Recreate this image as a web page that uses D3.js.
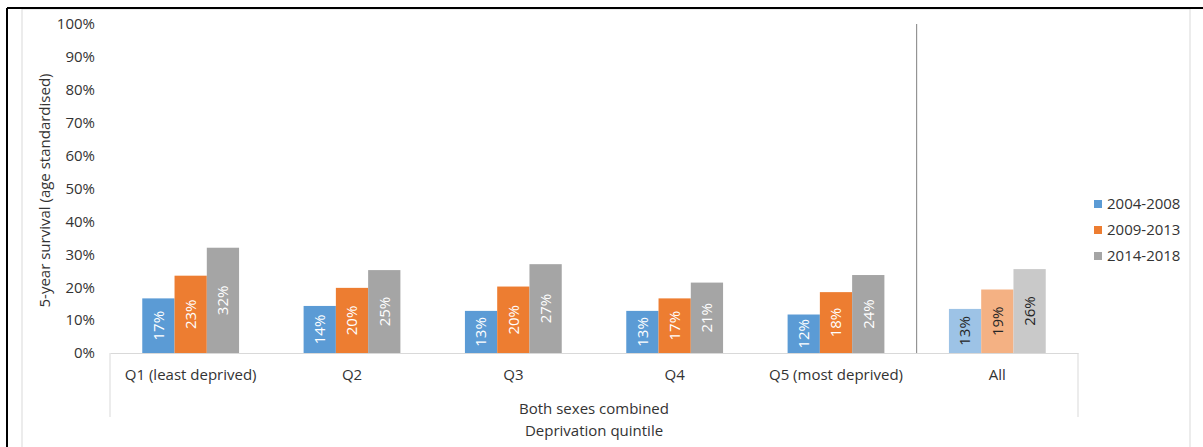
<!DOCTYPE html>
<html lang="en">
<head>
  <meta charset="UTF-8">
  <title>5-year survival by deprivation quintile</title>
  <script src="https://cdn.jsdelivr.net/npm/d3@7"></script>
  <style>
    body { margin: 0; background: #fff; }
    text { font-family: "Open Sans", sans-serif; fill: #333; }
  </style>
</head>
<body>
<div id="chart"></div>
<script>
// data
const categories = ["Q1 (least deprived)", "Q2", "Q3", "Q4", "Q5 (most deprived)", "All"];
const series = ["2004-2008", "2009-2013", "2014-2018"];
const v2004 = [16.6, 14.3, 12.8, 12.8, 11.7, 13.4];
const v2009 = [23.5, 19.8, 20.2, 16.6, 18.5, 19.3];
const v2014 = [32.0, 25.2, 27.0, 21.4, 23.7, 25.5];
const labels2004 = ["17%", "14%", "13%", "13%", "12%", "13%"];
const labels2009 = ["23%", "20%", "20%", "17%", "18%", "19%"];
const labels2014 = ["32%", "25%", "27%", "21%", "24%", "26%"];
const yTicks = [0, 10, 20, 30, 40, 50, 60, 70, 80, 90, 100];

const colors = ["#5B9BD5", "#ED7D31", "#A5A5A5"];
const lightColors = ["#9DC3E6", "#F4B183", "#C9C9C9"];

const width = 1203, height = 447;
const margin = { top: 24, right: 125, bottom: 94, left: 110 };
const innerW = 1078 - margin.left;
const innerH = 353 - margin.top;
const fs = "15px";

const svg = d3.select("#chart").append("svg")
  .attr("width", width)
  .attr("height", height);

// frame
svg.append("rect").attr("x", 22).attr("y", 9).attr("width", 1168).attr("height", 450)
  .attr("fill", "none").attr("stroke", "#D9D9D9");
svg.append("line").attr("x1", 7).attr("x2", 1203).attr("y1", 8).attr("y2", 8)
  .attr("stroke", "#000").attr("stroke-width", 2);
svg.append("line").attr("x1", 7).attr("x2", 7).attr("y1", 8).attr("y2", 447)
  .attr("stroke", "#000").attr("stroke-width", 2);

const g = svg.append("g").attr("transform", `translate(${margin.left},${margin.top})`);

const x0 = d3.scaleBand().domain(categories).range([0, innerW]).paddingInner(0).paddingOuter(0);
const x1 = d3.scaleBand().domain(series).range([0, x0.bandwidth() * 0.6]);
const y = d3.scaleLinear().domain([0, 100]).range([innerH, 0]);

// y axis (labels only)
const yAxis = d3.axisLeft(y).tickValues(yTicks).tickFormat(d => d + "%").tickSize(0).tickPadding(15);
const yAxisG = g.append("g").call(yAxis);
yAxisG.select(".domain").remove();
yAxisG.selectAll("text").style("font-size", fs).attr("fill", "#333")
  .style("font-family", "'Open Sans', sans-serif");

g.append("text")
  .attr("transform", `translate(${-65},${innerH / 2 + 2}) rotate(-90)`)
  .attr("text-anchor", "middle")
  .attr("dy", "0.35em")
  .style("font-size", fs)
  .text("5-year survival (age standardised)");

// category axis
const xAxis = d3.axisBottom(x0).tickSize(0).tickPadding(16);
const xAxisG = g.append("g").attr("transform", `translate(0,${innerH})`).call(xAxis);
xAxisG.select(".domain").attr("stroke", "#D9D9D9");
xAxisG.selectAll("text").style("font-size", fs).attr("fill", "#333")
  .style("font-family", "'Open Sans', sans-serif");

g.selectAll("line.edge").data([0, innerW]).enter().append("line")
  .attr("class", "edge")
  .attr("x1", d => d).attr("x2", d => d)
  .attr("y1", innerH).attr("y2", innerH + 64)
  .attr("stroke", "#D9D9D9");

g.append("text")
  .attr("x", innerW / 2).attr("y", innerH + 56)
  .attr("dy", "0.35em")
  .attr("text-anchor", "middle")
  .style("font-size", fs)
  .text("Both sexes combined");

g.append("text")
  .attr("x", innerW / 2).attr("y", innerH + 78)
  .attr("dy", "0.35em")
  .attr("text-anchor", "middle")
  .style("font-size", fs)
  .text("Deprivation quintile");

// separator before "All"
g.append("line")
  .attr("x1", x0("All")).attr("x2", x0("All"))
  .attr("y1", 0).attr("y2", innerH)
  .attr("stroke", "#808080");

// bars
const rows = categories.map((c, i) => ({
  cat: c,
  vals: [
    { s: series[0], v: v2004[i], l: labels2004[i] },
    { s: series[1], v: v2009[i], l: labels2009[i] },
    { s: series[2], v: v2014[i], l: labels2014[i] }
  ]
}));

const groups = g.selectAll("g.grp").data(rows).enter().append("g")
  .attr("class", "grp")
  .attr("transform", d => `translate(${x0(d.cat) + x0.bandwidth() * 0.2},0)`);

groups.selectAll("rect").data(d => d.vals.map(v => ({ ...v, all: d.cat === "All" }))).enter().append("rect")
  .attr("x", d => x1(d.s))
  .attr("y", d => y(d.v))
  .attr("width", x1.bandwidth())
  .attr("height", d => innerH - y(d.v))
  .attr("fill", (d, i) => d.all ? lightColors[i] : colors[i]);

groups.selectAll("text.lbl").data(d => d.vals.map(v => ({ ...v, all: d.cat === "All" }))).enter().append("text")
  .attr("class", "lbl")
  .attr("transform", d => `translate(${x1(d.s) + x1.bandwidth() / 2},${(y(d.v) + innerH) / 2}) rotate(-90)`)
  .attr("text-anchor", "middle")
  .attr("dy", "0.35em")
  .style("font-size", fs)
  .style("fill", d => d.all ? "#262626" : "#fff")
  .text(d => d.l);

// legend
const legend = svg.append("g").attr("transform", "translate(1094,204)");
const items = legend.selectAll("g").data(series).enter().append("g")
  .attr("transform", (d, i) => `translate(0,${i * 26})`);
items.append("rect").attr("x", 0).attr("y", -4).attr("width", 8).attr("height", 8)
  .attr("fill", (d, i) => colors[i]);
items.append("text").attr("x", 13).attr("dy", "0.35em")
  .style("font-size", fs).style("fill", "#333")
  .text(d => d);
</script>
</body>
</html>
